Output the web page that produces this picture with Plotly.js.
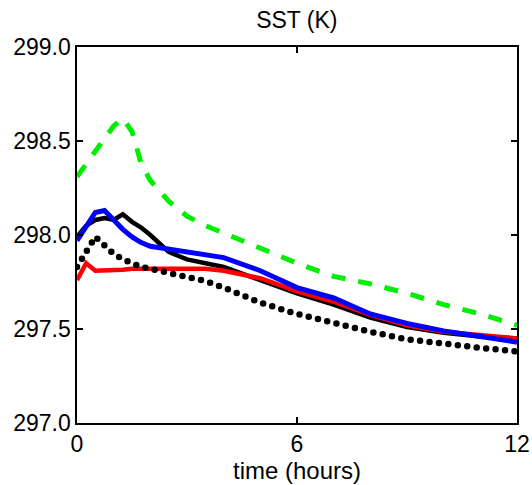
<!DOCTYPE html>
<html><head><meta charset="utf-8">
<script src="https://cdn.plot.ly/plotly-3.0.1.min.js"></script>
<style>
html,body{margin:0;padding:0;background:#fff;}
#chart .scatterlayer .trace:last-child path.js-line{stroke-linecap:round;}
</style>
</head><body>
<div id="chart" style="width:532px;height:485px;"></div>
<script>
const time = [0, 0.25, 0.5, 0.75, 1, 1.25, 1.5, 1.75, 2, 2.5, 3, 3.5, 4, 5, 6, 7, 8, 9, 10, 11, 12];
const sstBlack = [297.99, 298.05, 298.08, 298.09, 298.08, 298.11, 298.07, 298.04, 298.00, 297.91, 297.87, 297.85, 297.83, 297.76, 297.69, 297.63, 297.56, 297.51, 297.48, 297.46, 297.45];
const sstRed   = [297.76, 297.85, 297.81, 297.81, 297.815, 297.815, 297.82, 297.82, 297.82, 297.82, 297.82, 297.82, 297.81, 297.77, 297.70, 297.645, 297.575, 297.52, 297.485, 297.465, 297.45];
const sstBlue  = [297.97, 298.05, 298.12, 298.13, 298.08, 298.03, 297.99, 297.96, 297.94, 297.925, 297.915, 297.90, 297.88, 297.81, 297.72, 297.665, 297.58, 297.53, 297.49, 297.46, 297.43];
const sstGreen = [298.31, 298.38, 298.45, 298.51, 298.58, 298.62, 298.55, 298.38, 298.29, 298.18, 298.10, 298.05, 298.01, 297.93, 297.85, 297.78, 297.74, 297.69, 297.63, 297.58, 297.52];
const sstDot   = [297.83, 297.91, 297.99, 297.945, 297.90, 297.87, 297.85, 297.83, 297.82, 297.80, 297.78, 297.755, 297.72, 297.64, 297.58, 297.53, 297.485, 297.445, 297.42, 297.40, 297.38];
const xTicks = [0, 6, 12];
const yTicks = [297.0, 297.5, 298.0, 298.5, 299.0];

const traces = [
  {x: time, y: sstBlack, mode: 'lines', line: {color: '#000000', width: 4.5}},
  {x: time, y: sstRed, mode: 'lines', line: {color: '#ff0000', width: 4.5}},
  {x: time, y: sstBlue, mode: 'lines', line: {color: '#0000ff', width: 5}},
  {x: time, y: sstGreen, mode: 'lines', line: {color: '#00ee00', width: 5, dash: '14px,13px'}},
  {x: time, y: sstDot, mode: 'lines', line: {color: '#000000', width: 6.5, dash: '0px,9.5px'}}
];
const fontFam = 'Liberation Sans, Arial, sans-serif';
const layout = {
  width: 532, height: 485,
  margin: {l: 77, r: 15, t: 47, b: 62},
  paper_bgcolor: '#fff', plot_bgcolor: '#fff',
  showlegend: false,
  font: {family: fontFam, color: '#000', size: 23},
  title: {text: 'SST (K)', x: 0.558, xanchor: 'center', y: 0.958, yanchor: 'middle', font: {family: fontFam, size: 23, color: '#000'}},
  xaxis: {
    range: [0, 12], tickmode: 'array', tickvals: xTicks, ticktext: xTicks.map(String),
    ticks: 'inside', ticklen: 6, tickwidth: 1.5, tickcolor: '#000', mirror: 'ticks',
    showline: true, linecolor: '#000', linewidth: 1.7, showgrid: false, zeroline: false,
    tickfont: {size: 23}, title: {text: 'time (hours)', font: {size: 24}, standoff: 3}
  },
  yaxis: {
    range: [297, 299], tickmode: 'array', tickvals: yTicks, ticktext: yTicks.map(v => v.toFixed(1)),
    ticks: 'inside', ticklen: 6, tickwidth: 1.5, tickcolor: '#000', mirror: 'ticks',
    showline: true, linecolor: '#000', linewidth: 1.7, showgrid: false, zeroline: false,
    tickfont: {size: 23}
  }
};
Plotly.newPlot('chart', traces, layout, {staticPlot: true});
</script>
</body></html>
